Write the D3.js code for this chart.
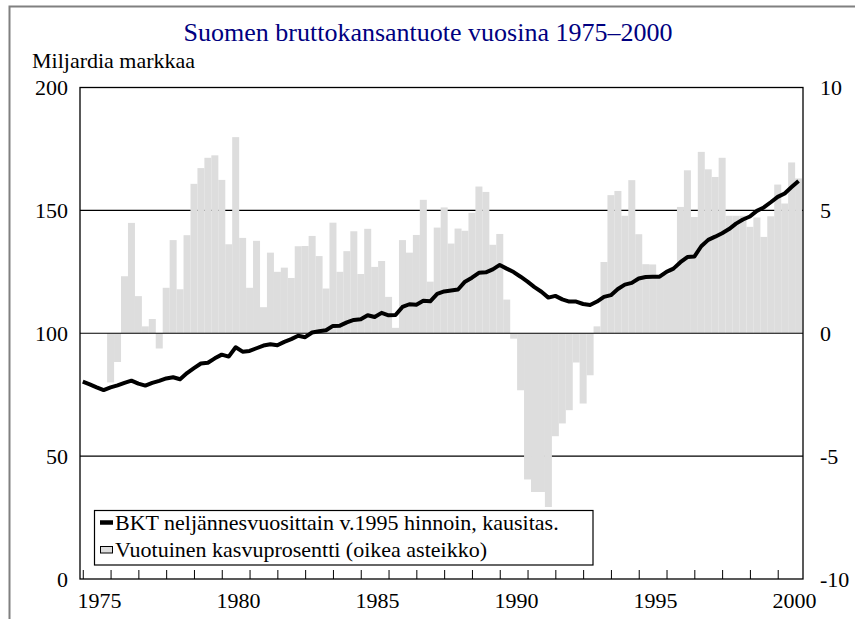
<!DOCTYPE html>
<html>
<head>
<meta charset="utf-8">
<script src="https://cdn.jsdelivr.net/npm/d3@7"></script>
<style>
  html, body { margin: 0; padding: 0; background: #fff; }
  svg { display: block; }
  svg text { font-family: "Liberation Serif", "Times New Roman", serif !important; }
</style>
</head>
<body>
<script>
// ---------- data ----------
const title = "Suomen bruttokansantuote vuosina 1975\u20132000";
const leftAxisTitle = "Miljardia markkaa";
const startYear = 1975;            // first quarter of GDP series: 1975Q1
const growthStartYear = 1976;      // first quarter of growth series: 1976Q1
const yearTicks = d3.range(1975, 2001);
const yearLabels = [1975, 1980, 1985, 1990, 1995, 2000];
const leftTicks = [0, 50, 100, 150, 200];
const rightTicks = [-10, -5, 0, 5, 10];
const gridValues = [50, 100, 150];

// BKT neljännesvuosittain v.1995 hinnoin, kausitas. (mrd mk), 1975Q1 ... 2000Q4
const gdp = [
  80.3, 79.2, 78.0, 76.9,
  78.0, 78.8, 79.8, 80.7,
  79.5, 78.7, 79.8, 80.6,
  81.6, 82.1, 81.3, 83.8,
  85.8, 87.7, 88.0, 89.8,
  91.3, 90.5, 94.3, 92.5,
  92.8, 93.9, 95.0, 95.5,
  95.1, 96.5, 97.6, 99.0,
  98.4, 100.3, 100.8, 101.2,
  103.0, 103.1, 104.4, 105.4,
  105.7, 107.3, 106.6, 108.3,
  107.3, 107.4, 110.7, 111.8,
  111.6, 113.2, 113.0, 116.0,
  117.0, 117.4, 117.8, 121.0,
  122.6, 124.6, 124.8, 126.0,
  127.8, 126.3, 124.9, 123.0,
  121.0, 118.8, 116.9, 114.5,
  115.2, 113.8, 112.9, 112.9,
  111.9, 111.5, 112.9, 114.8,
  115.5, 118.0, 119.8, 120.5,
  122.3, 122.9, 123.0, 123.0,
  125.0, 126.3, 128.9, 131.0,
  131.2, 135.4, 138.0, 139.3,
  140.7, 142.4, 144.6, 146.3,
  147.5, 149.8, 151.2, 153.3,
  155.5, 156.9, 159.5, 162.0
];

// Vuotuinen kasvuprosentti (%), 1976Q1 ... 2000Q4
const growth = [
  -2.0, -1.17, 2.32, 4.49,
  1.51, 0.28, 0.58, -0.62,
  1.85, 3.79, 1.79, 3.99,
  6.08, 6.72, 7.14, 7.24,
  6.24, 3.62, 7.98, 3.88,
  1.85, 3.76, 1.06, 3.28,
  2.50, 2.67, 2.25, 3.54,
  3.55, 3.96, 3.14, 1.82,
  4.50, 2.50, 3.34, 4.15,
  2.41, 4.25, 2.70, 2.94,
  1.48, 0.22, 3.79, 3.28,
  4.00, 5.43, 2.10, 4.30,
  5.12, 3.65, 4.26, 4.17,
  4.90, 5.97, 5.75, 3.60,
  4.04, 1.37, -0.22, -2.32,
  -5.95, -6.46, -6.46, -7.07,
  -4.19, -3.67, -3.13, -1.19,
  -2.86, -1.71, 0.28, 2.90,
  5.62, 5.79, 4.78, 6.23,
  4.03, 2.81, 2.80, 2.30,
  2.40, 2.60, 5.14, 6.63,
  4.73, 7.38, 6.67, 6.36,
  7.14, 4.78, 4.78, 4.78,
  4.33, 4.71, 3.92, 4.76,
  6.05, 5.28, 6.95, 6.30
];

const legendItems = [
  "BKT nelj\u00e4nnesvuosittain v.1995 hinnoin, kausitas.",
  "Vuotuinen kasvuprosentti (oikea asteikko)"
];

// ---------- layout ----------
const W = 855, H = 619;
const plot = { left: 80, right: 803, top: 87.5, bottom: 579 };
const FONT = 22;
const SERIF = "'Liberation Serif', 'Times New Roman', serif";

const svg = d3.select("body").append("svg")
  .attr("width", W).attr("height", H)
  .attr("font-family", SERIF);

// outer frame
svg.append("rect")
  .attr("x", 9.5).attr("y", 6.5)
  .attr("width", W + 10).attr("height", H + 10)
  .attr("fill", "#fff").attr("stroke", "#808080").attr("stroke-width", 2);

const x = d3.scaleLinear().domain([1974.9, 2000.91]).range([plot.left, plot.right]);
const yL = d3.scaleLinear().domain([0, 200]).range([plot.bottom, plot.top]);
const yR = d3.scaleLinear().domain([-10, 10]).range([plot.bottom, plot.top]);

const quarterW = x(startYear + 0.25) - x(startYear);

// gridlines (behind bars)
svg.append("g").selectAll("line").data(gridValues.filter(v => v !== 100)).join("line")
  .attr("x1", plot.left).attr("x2", plot.right)
  .attr("y1", d => yL(d)).attr("y2", d => yL(d))
  .attr("stroke", "#000").attr("stroke-width", 1.2);

// bars
const growthData = growth.map((v, i) => ({ t: growthStartYear + i / 4, v }));
svg.append("g").selectAll("rect").data(growthData).join("rect")
  .attr("x", d => x(d.t) - quarterW / 2)
  .attr("width", quarterW + 0.05)
  .attr("y", d => yR(Math.max(0, d.v)))
  .attr("height", d => Math.abs(yR(d.v) - yR(0)))
  .attr("fill", "#dddddd");

// zero line on top of bars
svg.append("line")
  .attr("x1", plot.left).attr("x2", plot.right)
  .attr("y1", yL(100)).attr("y2", yL(100))
  .attr("stroke", "#000").attr("stroke-width", 1.2);

// plot frame
svg.append("rect")
  .attr("x", plot.left).attr("y", plot.top)
  .attr("width", plot.right - plot.left).attr("height", plot.bottom - plot.top)
  .attr("fill", "none").attr("stroke", "#000").attr("stroke-width", 1.3);

// x axis ticks (inward)
const xAxis = d3.axisBottom(x).tickValues(yearTicks).tickSize(-9).tickFormat("");
const gx = svg.append("g").attr("transform", `translate(0,${plot.bottom})`).call(xAxis);
gx.select(".domain").remove();
gx.selectAll(".tick line").attr("stroke", "#000").attr("stroke-width", 1);

// x labels
svg.append("g").selectAll("text").data(yearLabels).join("text")
  .attr("x", d => x(d + 0.6))
  .attr("y", 608)
  .attr("text-anchor", "middle")
  .attr("font-size", FONT)
  .attr("fill", "#000")
  .text(d => d);

// left axis labels
const gl = svg.append("g").attr("transform", `translate(${plot.left - 12},0)`)
  .call(d3.axisLeft(yL).tickValues(leftTicks).tickSize(0).tickPadding(0));
gl.attr("font-family", SERIF).attr("font-size", FONT);
gl.select(".domain").remove();
gl.selectAll("text").attr("font-size", FONT).attr("font-family", SERIF)
  .attr("dy", "0.32em").attr("fill", "#000");

// right axis labels
const gr = svg.append("g").attr("transform", `translate(${plot.right + 17},0)`)
  .call(d3.axisRight(yR).tickValues(rightTicks).tickSize(0).tickPadding(0)
    .tickFormat(d => d < 0 ? "-" + Math.abs(d) : d));
gr.attr("font-family", SERIF).attr("font-size", FONT);
gr.select(".domain").remove();
gr.selectAll("text").attr("font-size", FONT).attr("font-family", SERIF)
  .attr("dy", "0.32em").attr("fill", "#000");

// GDP line
const line = d3.line()
  .x((d, i) => x(startYear + i / 4))
  .y(d => yL(d));
svg.append("path").datum(gdp)
  .attr("d", line)
  .attr("fill", "none").attr("stroke", "#000").attr("stroke-width", 4)
  .attr("stroke-linejoin", "round").attr("stroke-linecap", "butt");

// title
svg.append("text")
  .attr("x", 428).attr("y", 41)
  .attr("text-anchor", "middle")
  .attr("font-size", 26)
  .attr("fill", "#000080")
  .text(title);

// left axis title
svg.append("text")
  .attr("x", 32).attr("y", 68)
  .attr("font-size", FONT)
  .attr("fill", "#000")
  .text(leftAxisTitle);

// legend
const lg = svg.append("g");
lg.append("rect")
  .attr("x", 94.5).attr("y", 510.5).attr("width", 498.5).attr("height", 54.5)
  .attr("fill", "#fff").attr("stroke", "#000").attr("stroke-width", 1.2);
lg.append("line")
  .attr("x1", 100).attr("x2", 113).attr("y1", 522.5).attr("y2", 522.5)
  .attr("stroke", "#000").attr("stroke-width", 4.5);
lg.append("rect")
  .attr("x", 100.5).attr("y", 546.5).attr("width", 12).attr("height", 6.5)
  .attr("fill", "#dddddd").attr("stroke", "#000").attr("stroke-width", 1);
lg.selectAll("text.item").data(legendItems).join("text")
  .attr("class", "item")
  .attr("x", 115)
  .attr("y", (d, i) => 530 + i * 27)
  .attr("font-size", FONT)
  .attr("fill", "#000")
  .text(d => d);
</script>
</body>
</html>
